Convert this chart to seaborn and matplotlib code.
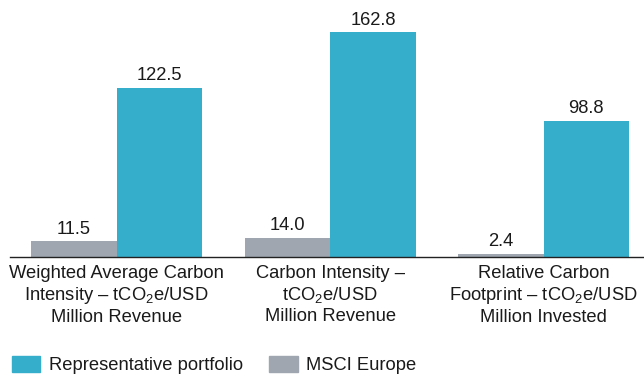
import matplotlib
matplotlib.use("Agg")
import matplotlib.pyplot as plt
import seaborn as sns
import pandas as pd
from matplotlib.patches import Patch

categories = [
    "Weighted Average Carbon\nIntensity – $\\mathregular{tCO_2e}$/USD\nMillion Revenue",
    "Carbon Intensity –\n$\\mathregular{tCO_2e}$/USD\nMillion Revenue",
    "Relative Carbon\nFootprint – $\\mathregular{tCO_2e}$/USD\nMillion Invested",
]
msci_values = [11.5, 14.0, 2.4]
portfolio_values = [122.5, 162.8, 98.8]
series_names = ["MSCI Europe", "Representative portfolio"]
colors = {"MSCI Europe": "#9fa6af", "Representative portfolio": "#35aecb"}

sns.set_theme(style="white")
plt.rcParams["font.family"] = ["Liberation Sans", "DejaVu Sans"]
plt.rcParams["mathtext.fontset"] = "custom"
plt.rcParams["mathtext.rm"] = "Liberation Sans"

df = pd.DataFrame({
    "category": categories * 2,
    "series": [series_names[0]] * 3 + [series_names[1]] * 3,
    "value": msci_values + portfolio_values,
})

fig = plt.figure(figsize=(6.44, 3.76), dpi=100)
ax = fig.add_axes([0.0155, 0.3165, 0.9845, 0.6835])
sns.barplot(data=df, x="category", y="value", hue="series", hue_order=series_names,
            palette=colors, width=0.8, saturation=1, linewidth=0, ax=ax, legend=False)

fs = 13.2
for cont in ax.containers:
    ax.bar_label(cont, fmt="%.1f", padding=2.5, fontsize=fs, color="#1a1a1a")

ax.set_xlim(-0.5, 2.47)
ax.set_ylim(0, 186.1)
ax.set_xlabel("")
ax.set_ylabel("")
ax.set_yticks([])
for s in ["left", "right", "top"]:
    ax.spines[s].set_visible(False)
ax.spines["bottom"].set_color("#222222")
ax.spines["bottom"].set_linewidth(1.0)
ax.tick_params(axis="x", length=0, pad=6, labelsize=fs, labelcolor="#1a1a1a")
for lab in ax.get_xticklabels():
    lab.set_linespacing(1.2)

handles = [Patch(color=colors["Representative portfolio"]), Patch(color=colors["MSCI Europe"])]
fig.legend(handles, ["Representative portfolio", "MSCI Europe"], loc="center left",
           bbox_to_anchor=(12 / 644, 1 - 365 / 376), ncol=2, frameon=False, fontsize=fs,
           handlelength=1.55, handleheight=0.95, handletextpad=0.45, columnspacing=1.45,
           borderaxespad=0, borderpad=0, labelcolor="#1a1a1a")

fig.savefig("out.png", dpi=100)
